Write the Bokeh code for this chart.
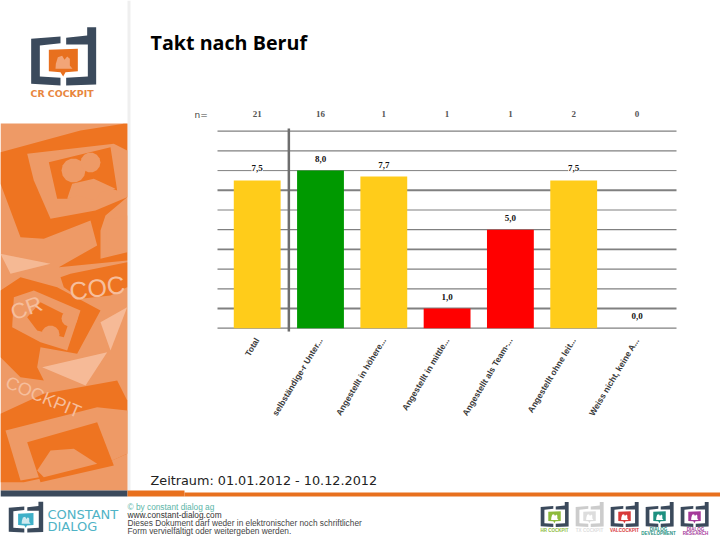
from bokeh.embed import file_html
from bokeh.resources import INLINE
from bokeh.plotting import figure
from bokeh.models import (ColumnDataSource, LabelSet, Label, FixedTicker, LinearAxis,
                          PolyAnnotation, Range1d)
import math

# ---- chart data ----
categories = ["Total", "selbständige-r Unter...", "Angestellt in höhere...", "Angestellt in mittle...",
              "Angestellt als Team-...", "Angestellt ohne leit...", "Weiss nicht, keine A..."]
values = [7.5, 8.0, 7.7, 1.0, 5.0, 7.5, 0.0]
counts = ["21", "16", "1", "1", "1", "2", "0"]
positions = [0, 1, 2, 3, 4, 5, 6]
bar_colors = ["#FFCC1A", "#009900", "#FFCC1A", "#FF0000", "#FF0000", "#FFCC1A", "#FFCC1A"]
y_ticks = [0, 1, 2, 3, 4, 5, 6, 7, 8, 9, 10]
grid_widths = [1.2, 1.9, 1.2, 1.2, 1.9, 1.2, 1.2, 1.9, 1.0, 1.2, 1.2]

W, H = 720, 540
# the frame fills the canvas, so the scales place the chart inside the page
X0, X_STEP, Y0, Y_STEP = 256.7, 63.3, 327.7, 19.7
x_range = Range1d(-X0 / X_STEP, (W - X0) / X_STEP)
y_range = Range1d(-(H - Y0) / Y_STEP, Y0 / Y_STEP)

p = figure(width=W, height=H, output_backend="svg", toolbar_location=None,
           x_range=x_range, y_range=y_range, x_axis_location=None, y_axis_location=None,
           min_border=0, min_border_left=0, min_border_right=0, min_border_top=0, min_border_bottom=0,
           outline_line_color=None, background_fill_color="white", border_fill_color="white")
p.grid.visible = False

ax = LinearAxis(ticker=FixedTicker(ticks=positions),
                major_label_overrides={i: c for i, c in zip(positions, categories)},
                fixed_location=-0.17)
ax.axis_line_color = None
ax.major_tick_line_color = None
ax.minor_tick_line_color = None
ax.major_label_orientation = math.radians(59)
ax.major_label_text_font = "Liberation Sans"
ax.major_label_text_font_style = "bold"
ax.major_label_text_font_size = "8.5px"
ax.major_label_text_color = "#3a3a3a"
ax.major_label_standoff = 1
p.add_layout(ax, "below")


# ---- decoration in page pixels ----
def poly(pts, color, alpha=1.0):
    p.add_layout(PolyAnnotation(xs=[a for a, b in pts], ys=[b for a, b in pts],
                                xs_units="canvas", ys_units="canvas",
                                fill_color=color, fill_alpha=alpha, line_color=None, level="underlay"))


def rect(x0, y0, x1, y1, color, alpha=1.0):
    poly([(x0, y0), (x1, y0), (x1, y1), (x0, y1)], color, alpha)


def text(x, y, s, size, color, font="Liberation Sans", style="normal", angle=0.0, align="left"):
    p.add_layout(Label(x=x, y=y, x_units="canvas", y_units="canvas", text=s,
                       text_font=font, text_font_size=size, text_color=color, text_align=align,
                       text_font_style=style, text_baseline="middle", angle=angle))


def zone(pts, ox=0.0, oy=120.0, k=1 / 3):
    return [(ox + a * k, oy + b * k) for a, b in pts]


def circle(cx, cy, r, n=14):
    return [(cx + r * math.cos(2 * math.pi * i / n), cy + r * math.sin(2 * math.pi * i / n)) for i in range(n)]


def logo(ox, oy, s, dark, accent, inner):
    def t(pts):
        return [(ox + a / 3 * s, oy + b / 3 * s) for a, b in pts]
    poly(t([(92, 115), (180, 108), (180, 128), (118, 135), (118, 228), (180, 232), (180, 255), (92, 250)]), dark)
    poly(t([(197, 112), (260, 105), (260, 80), (287, 80), (287, 252), (197, 255), (197, 232), (262, 228),
            (262, 132), (197, 132)]), dark)
    poly(t([(145, 148), (232, 145), (232, 212), (195, 215), (188, 228), (180, 215), (145, 212)]), accent)
    poly(t([(165, 205), (166, 190), (172, 170), (185, 166), (192, 178), (200, 168), (208, 175), (208, 195),
            (216, 205)]), inner)


ORANGE_L, ORANGE_D, ORANGE_W = "#EE9A66", "#EE7421", "#F6BE9C"
NAVY = "#3B4A5C"

# left panel
rect(127, 0, 130, 490, "#EFEFEF")
rect(0, 123, 127, 490, ORANGE_L)
# upper bubble
poly(zone([(0, 95), (240, 30), (370, 10), (380, 10), (380, 230), (315, 285), (300, 330), (300, 415), (380, 395),
           (380, 420), (175, 440), (290, 375), (270, 300), (130, 355), (60, 350), (0, 190)]), ORANGE_D)
poly(zone([(80, 100), (340, 70), (380, 90), (380, 230), (285, 270), (150, 295), (100, 180)]), ORANGE_L)
poly(zone([(145, 125), (330, 80), (350, 210), (290, 190), (200, 235), (170, 235)]), ORANGE_D)
poly(circle(73, 170, 12), ORANGE_L)
poly(circle(90, 162, 10), ORANGE_L)
poly(zone([(200, 235), (215, 190), (280, 175), (345, 205), (300, 215), (285, 240), (230, 225)]), ORANGE_L)
poly(zone([(315, 300), (380, 285), (380, 395), (320, 380)]), ORANGE_L)
# middle bubble
poly(zone([(0, 510), (60, 470), (170, 500), (300, 570), (230, 700), (120, 680), (110, 740), (130, 780),
           (60, 770), (0, 710)]), ORANGE_D)
poly(zone([(40, 530), (100, 510), (240, 570), (200, 690), (120, 665), (35, 620)]), ORANGE_L)
poly(zone([(80, 590), (120, 545), (210, 590), (190, 650), (110, 630)]), ORANGE_D)
poly(zone([(180, 470), (210, 460), (380, 425), (380, 500), (330, 525), (240, 535), (190, 500)]), ORANGE_D)
poly(zone([(0, 400), (150, 430), (30, 460)]), ORANGE_W, 0.85)
poly(zone([(300, 605), (380, 560), (330, 690)]), ORANGE_W, 0.9)
poly(zone([(125, 740), (320, 695), (255, 795)]), ORANGE_W, 0.9)
# lower bubble
poly(zone([(0, 880), (130, 820), (350, 780), (380, 840), (380, 1000), (300, 1035), (70, 1085), (0, 1085)]), ORANGE_D)
poly(zone([(15, 930), (290, 860), (380, 870), (380, 1000), (290, 1040), (60, 1080)]), ORANGE_L)
poly(zone([(80, 965), (290, 905), (340, 1035), (120, 1085)]), ORANGE_D)
poly(circle(50, 334, 9), ORANGE_L)
poly(circle(69, 318, 8), ORANGE_L)
poly(zone([(110, 1050), (150, 990), (220, 985), (290, 1030), (130, 1070)]), ORANGE_L)
text(6, 381, "COCKPIT", "18px", ORANGE_W, angle=math.radians(-23))
text(69, 291, "COC", "25px", ORANGE_W, angle=math.radians(8))
text(11, 313, "CR", "22px", ORANGE_W, angle=math.radians(20))

# main logo
logo(0, 0, 1, NAVY, "#E8701E", "#F2A577")
text(30, 93, "CR COCKPIT", "9.4px", "#E8863E", font="DejaVu Sans", style="bold")

# footer
rect(0, 490, 127, 496, NAVY)
rect(127, 490, 184, 496, "#E8701E")
rect(184, 492, 720, 496, "#E8701E")
logo(-8, 487, 0.53, NAVY, "#3FB0C8", "#CFEAF0")
text(47, 514, "CONSTANT", "13px", "#4FB3C6", font="DejaVu Sans")
text(47, 526, "DIALOG", "13px", "#4FB3C6", font="DejaVu Sans")
text(127, 506, "© by constant dialog ag", "8.3px", "#5BB5A8", font="Liberation Sans")
text(127, 514, "www.constant-dialog.com", "8.3px", "#333333", font="Liberation Sans")
text(127, 522, "Dieses Dokument darf weder in elektronischer noch schriftlicher", "8.3px", "#444444", font="Liberation Sans")
text(127, 530, "Form vervielfältigt oder weitergeben werden.", "8.3px", "#444444", font="Liberation Sans")

for ox, dark, acc in [(527, NAVY, "#8DBB3C"), (562, "#CCCCCC", "#DDDDDD"), (597, NAVY, "#D83A3A"),
                      (632, NAVY, "#1E9080"), (667, NAVY, "#A5399A")]:
    logo(ox, 490, 0.43, dark, acc, "#FFFFFF")
for cx, cy, cap, col in [(554, 530, "HR COCKPIT", "#8DBB3C"), (589, 530, "TX COCKPIT", "#DDDDDD"),
                         (624, 530, "VALCOCKPIT", "#D83A3A"), (658, 529, "DIALOG", "#1E9080"),
                         (658, 533, "DEVELOPMENT", "#1E9080"), (695, 529, "DIALOG", "#A5399A"),
                         (695, 533, "RESEARCH", "#A5399A")]:
    text(cx, cy, cap, "4.5px", col, font="Liberation Sans", style="bold", align="center")

# page texts
text(150, 42, "Takt nach Beruf", "19.7px", "#000000", font="Open Sans", style="bold")
text(150, 480, "Zeitraum: 01.01.2012 - 10.12.2012", "12.8px", "#222222", font="DejaVu Sans")
text(194, 114, "n=", "9px", "#444444", font="DejaVu Sans")

# ---- chart marks ----
GRID_X0, GRID_X1 = (217 - X0) / X_STEP, (676 - X0) / X_STEP
p.segment(x0=[GRID_X0] * len(y_ticks), x1=[GRID_X1] * len(y_ticks), y0=y_ticks, y1=y_ticks,
          line_color="#808080", line_width=grid_widths)
src = ColumnDataSource(dict(pos=positions, val=values, col=bar_colors,
                            txt=[f"{v:.1f}".replace(".", ",") for v in values],
                            n=counts, top=[10.85] * len(values)))
p.vbar(x="pos", top="val", bottom=0, width=0.74, fill_color="col", line_color=None, source=src)
p.segment(x0=[0.5], x1=[0.5], y0=[-0.17], y1=[10.14], line_color="#6e6e6e", line_width=2.5)
p.add_layout(LabelSet(x="pos", y="val", text="txt", source=src, y_offset=12, text_align="center",
                      text_baseline="middle", text_font="Open Sans", text_font_size="9px",
                      text_font_style="bold", text_color="#111111", background_fill_color="white",
                      background_fill_alpha=1.0))
p.add_layout(LabelSet(x="pos", y="top", text="n", source=src, text_align="center",
                      text_baseline="middle", text_font="DejaVu Sans", text_font_size="9px",
                      text_font_style="bold", text_color="#555555"))

open("out.html", "w").write(file_html(p, INLINE))
